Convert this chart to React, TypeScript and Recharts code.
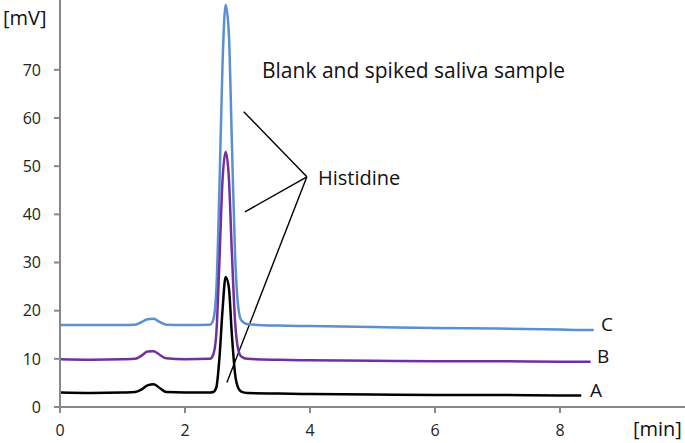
import React from 'react';
import { LineChart, Line, XAxis, YAxis, ReferenceLine, Customized } from 'recharts';

// retention time [min]
const times = [0, 0.5, 1.0, 1.2, 1.3, 1.4, 1.5, 1.6, 1.7, 2.0, 2.4, 2.45, 2.5, 2.55, 2.6, 2.65, 2.7, 2.75, 2.8, 2.85, 2.9, 3.0, 3.5, 4, 5, 6, 7, 8, 8.34, 8.49, 8.54];

// signal [mV]
const seriesC = [17, 17, 17, 17.1, 17.6, 18.2, 18.3, 17.6, 17.1, 17, 17.1, 18, 24, 45, 71, 83.5, 78, 55, 32, 21, 18, 17.2, 16.9, 16.8, 16.6, 16.4, 16.3, 16.1, 16.0, 16.0, 16.0];
const seriesB = [9.9, 9.8, 9.9, 10, 10.6, 11.5, 11.6, 10.8, 10.1, 9.9, 10, 10.8, 15, 30, 47, 53, 48, 32, 18, 12, 10.5, 10, 9.8, 9.7, 9.6, 9.5, 9.5, 9.4, 9.4, 9.4, null];
const seriesA = [3.0, 2.9, 3.0, 3.1, 3.6, 4.5, 4.7, 3.9, 3.1, 3.0, 3.0, 3.1, 4, 10, 20, 27, 25, 15, 7, 4, 3.2, 2.9, 2.8, 2.7, 2.6, 2.5, 2.5, 2.4, 2.4, null, null];

const xTicks = [0, 2, 4, 6, 8];
const yTicks = [0, 10, 20, 30, 40, 50, 60, 70];

// annotation pointers to "Histidine" label
const pointers = [
  [{ x: 2.94, y: 61.3 }, { x: 3.95, y: 47.8 }],
  [{ x: 2.96, y: 40.5 }, { x: 3.95, y: 47.8 }],
  [{ x: 2.67, y: 5.1 }, { x: 3.95, y: 47.8 }],
];

const data = times.map((t, i) => ({ t, A: seriesA[i], B: seriesB[i], C: seriesC[i] }));

const FONT = '"Open Sans", sans-serif';
const tickStyle = { fontSize: 16, fill: '#222', fontFamily: FONT };

const Annotations = () => (
  <g fontFamily={FONT} fill="#111">
    <text x={3} y={25} fontSize={20}>[mV]</text>
    <text x={633} y={436} fontSize={20}>[min]</text>
    <text x={262} y={78} fontSize={21}>Blank and spiked saliva sample</text>
    <text x={318} y={185} fontSize={20}>Histidine</text>
    <text x={601} y={331} fontSize={19}>C</text>
    <text x={597} y={363} fontSize={19}>B</text>
    <text x={590} y={397} fontSize={19}>A</text>
  </g>
);

export default function App() {
  return (
    <div style={{ position: 'absolute', left: 0, top: 0, background: '#fff' }}>
      <LineChart width={685} height={443} data={data} margin={{ top: 0, right: 0, bottom: 0, left: 0 }}>
        <XAxis
          dataKey="t"
          type="number"
          domain={[0, 10]}
          ticks={xTicks}
          height={36}
          stroke="#888"
          strokeWidth={2}
          tickSize={6}
          tickMargin={12}
          tick={tickStyle}
        />
        <YAxis
          type="number"
          domain={[0, 84.5]}
          ticks={yTicks}
          width={60}
          stroke="#888"
          strokeWidth={2}
          tickSize={6}
          tickMargin={13}
          tick={tickStyle}
        />
        {pointers.map((seg, i) => (
          <ReferenceLine key={i} segment={seg} stroke="#000" strokeWidth={1.4} ifOverflow="visible" />
        ))}
        <Line type="monotone" dataKey="C" stroke="#5a8fd2" strokeWidth={2.5} dot={false} isAnimationActive={false} connectNulls={false} />
        <Line type="monotone" dataKey="B" stroke="#7030a0" strokeWidth={2.5} dot={false} isAnimationActive={false} connectNulls={false} />
        <Line type="monotone" dataKey="A" stroke="#000" strokeWidth={2.5} dot={false} isAnimationActive={false} connectNulls={false} />
        <Customized component={Annotations} />
      </LineChart>
    </div>
  );
}
